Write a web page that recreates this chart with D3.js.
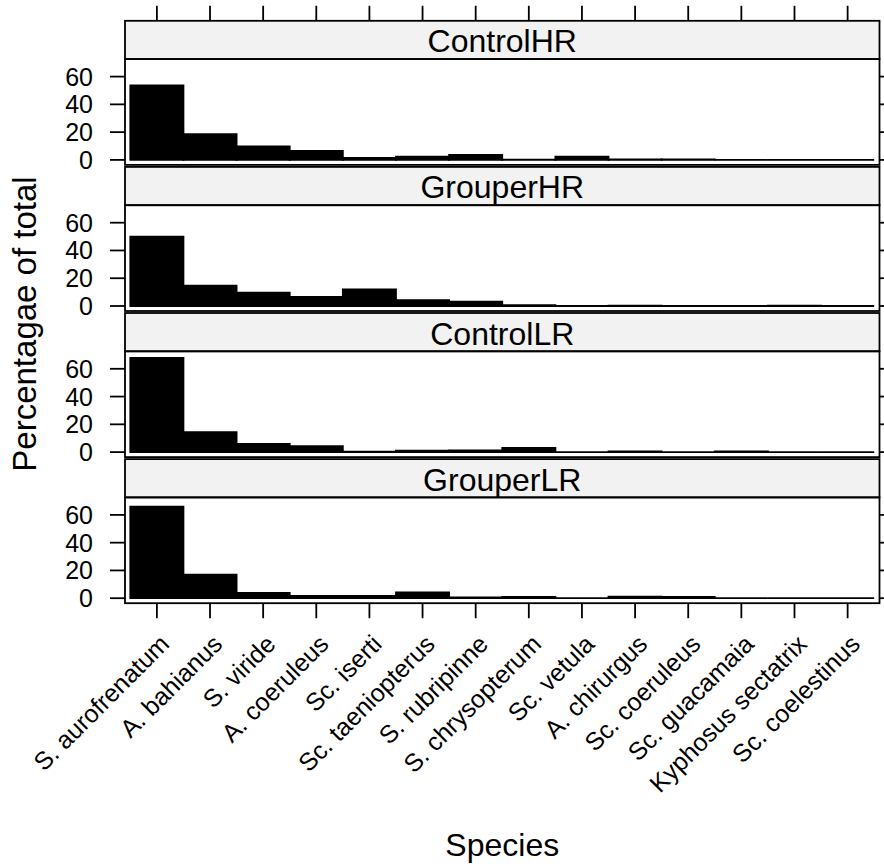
<!DOCTYPE html>
<html>
<head>
<meta charset="utf-8">
<script src="https://cdn.jsdelivr.net/npm/d3@7"></script>
<style>
  html, body { margin: 0; padding: 0; background: #fff; }
  svg { display: block; }
  text { font-family: "Liberation Sans", Arial, Helvetica, sans-serif; fill: #000; }
</style>
</head>
<body>
<svg id="chart" width="884" height="866"></svg>
<script>
// Species on the x axis, in plotting order
const species = [
  "S. aurofrenatum", "A. bahianus", "S. viride", "A. coeruleus", "Sc. iserti",
  "Sc. taeniopterus", "S. rubripinne", "S. chrysopterum", "Sc. vetula",
  "A. chirurgus", "Sc. coeruleus", "Sc. guacamaia", "Kyphosus sectatrix",
  "Sc. coelestinus"
];

// Panel names, top to bottom
const treatments = ["ControlHR", "GrouperHR", "ControlLR", "GrouperLR"];

// Percentage of total for each species, one array per treatment
const controlHR = [53.7, 18.5, 9.8, 6.5, 1.4, 2.4, 3.6, 0.2, 2.4, 0.3, 0.3, 0, 0, 0];
const grouperHR = [49.9, 14.6, 9.6, 6.5, 12.0, 4.3, 3.1, 0.7, 0.1, 0.3, 0.1, 0, 0.3, 0];
const controlLR = [67.9, 14.3, 5.9, 4.2, 0.25, 1.0, 1.2, 3.1, 0, 0.5, 0, 0.5, 0, 0];
const grouperLR = [66.0, 17.0, 3.8, 1.7, 1.7, 4.1, 0.5, 1.0, 0, 1.2, 1.0, 0, 0, 0];

const panelValues = [controlHR, grouperHR, controlLR, grouperLR];

// Y axis tick values
const yTicks = [0, 20, 40, 60];
const yDomain = [-3.6, 72.6];

// ---- layout ----
const svg = d3.select("#chart");
const left = 125, right = 879.5;
const firstTop = 20.8;      // top of the first strip
const period = 146.1;       // strip + panel + gap
const stripH = 38.3;
const bodyH = 105.8;
const tickLen = 15;
const lw = 1.8;

const x = d3.scaleBand()
  .domain(species)
  .range([left, right])
  .paddingInner(0)
  .paddingOuter(0.1);
const bw = x.bandwidth();
const cx = s => x(s) + bw / 2;

const g = svg.append("g");

treatments.forEach((name, k) => {
  const stripTop = firstTop + k * period;
  const bodyTop = stripTop + stripH;
  const bodyBottom = bodyTop + bodyH;
  const y = d3.scaleLinear().domain(yDomain).range([bodyBottom, bodyTop]);
  const vals = panelValues[k];

  const p = g.append("g").attr("class", "panel");

  // strip
  p.append("rect")
    .attr("x", left).attr("y", stripTop)
    .attr("width", right - left).attr("height", stripH)
    .attr("fill", "#f2f2f2").attr("stroke", "#000").attr("stroke-width", lw);
  p.append("text")
    .attr("x", (left + right) / 2).attr("y", stripTop + 31.5)
    .attr("text-anchor", "middle")
    .style("font-size", "32px")
    .text(name);

  // bars (paths so zero-height bars still show their outline)
  p.append("g").selectAll("path")
    .data(species.map((s, i) => ({ s, v: vals[i] })))
    .join("path")
    .attr("d", d => {
      const x0 = x(d.s), x1 = x(d.s) + bw;
      const y0 = y(0), y1 = y(d.v);
      return `M${x0},${y0}V${y1}H${x1}V${y0}Z`;
    })
    .attr("fill", "#000")
    .attr("stroke", "#000")
    .attr("stroke-width", lw)
    .attr("stroke-linejoin", "miter");

  // panel border
  p.append("rect")
    .attr("x", left).attr("y", bodyTop)
    .attr("width", right - left).attr("height", bodyH)
    .attr("fill", "none").attr("stroke", "#000").attr("stroke-width", lw);

  // left axis: ticks with labels; right axis: ticks only
  const ly = p.append("g");
  yTicks.forEach(t => {
    ly.append("line")
      .attr("x1", left - tickLen).attr("x2", left)
      .attr("y1", y(t)).attr("y2", y(t))
      .attr("stroke", "#000").attr("stroke-width", lw);
    ly.append("text")
      .attr("x", left - 32).attr("y", y(t))
      .attr("dy", "0.36em")
      .attr("text-anchor", "end")
      .style("font-size", "25px")
      .text(t);
    ly.append("line")
      .attr("x1", right).attr("x2", right + tickLen)
      .attr("y1", y(t)).attr("y2", y(t))
      .attr("stroke", "#000").attr("stroke-width", lw);
  });

  // top ticks above the first strip
  if (k === 0) {
    species.forEach(s => {
      p.append("line")
        .attr("x1", cx(s)).attr("x2", cx(s))
        .attr("y1", stripTop - tickLen).attr("y2", stripTop)
        .attr("stroke", "#000").attr("stroke-width", lw);
    });
  }

  // bottom ticks and species labels under the last panel
  if (k === treatments.length - 1) {
    species.forEach(s => {
      p.append("line")
        .attr("x1", cx(s)).attr("x2", cx(s))
        .attr("y1", bodyBottom).attr("y2", bodyBottom + tickLen)
        .attr("stroke", "#000").attr("stroke-width", lw);
      const ax = cx(s) + 7.5, ay = bodyBottom + tickLen + 21;
      p.append("text")
        .attr("transform", `translate(${ax},${ay}) rotate(-45)`)
        .attr("text-anchor", "end")
        .attr("dy", "0.36em")
        .style("font-size", "25px")
        .text(s);
    });
  }
});

// axis titles
svg.append("text")
  .attr("transform", "translate(36,324) rotate(-90)")
  .attr("text-anchor", "middle")
  .style("font-size", "33px")
  .text("Percentagae of total");

svg.append("text")
  .attr("x", (left + right) / 2).attr("y", 856)
  .attr("text-anchor", "middle")
  .style("font-size", "32px")
  .text("Species");
</script>
</body>
</html>
